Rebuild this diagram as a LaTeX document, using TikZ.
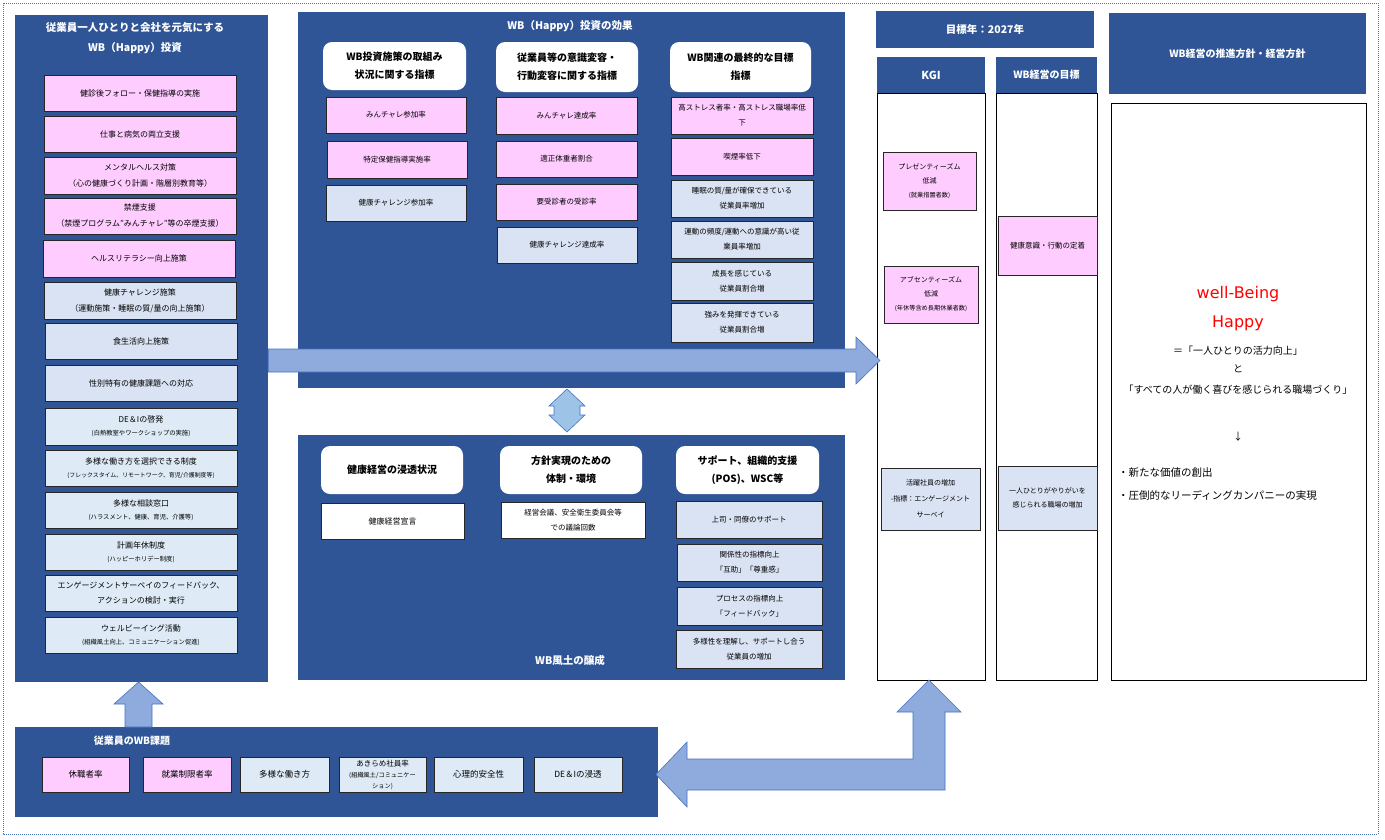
\documentclass[tikz,border=0pt]{standalone}
\usepackage{fontspec}
\setmainfont{Noto Sans CJK JP}
\newfontfamily\dvfont{DejaVu Sans}
\definecolor{pblue}{HTML}{2F5597}
\definecolor{pinkc}{HTML}{FFCCFF}
\definecolor{lbluec}{HTML}{DAE3F3}
\definecolor{lbluec2}{HTML}{DEEBF7}
\definecolor{arrc}{HTML}{8FAADC}
\definecolor{arrd}{HTML}{4472C4}
\definecolor{darrc}{HTML}{9DC3E6}
\newcommand\mybox[7]{\node[#6, minimum width={#4-#2}, minimum height={#5-#3}] (#1) at ({(#2+#4)/2},{(#3+#5)/2}) {#7};}
\newcommand\smtxt[1]{{\fontsize{6.3}{10}\selectfont #1}}
\newcommand\ssmtxt[1]{{\fontsize{6.2}{9}\selectfont #1}}
\tikzset{
 panel/.style={fill=pblue, draw=none, inner sep=0pt},
 pk/.style={fill=pinkc, draw=black!85, line width=0.9pt, inner sep=0pt, align=center, font=\fontsize{8}{16}\selectfont},
 lb/.style={pk, fill=lbluec},
 lbb/.style={pk, fill=lbluec2},
 wbx/.style={pk, fill=white},
 tight/.style={font=\fontsize{8}{13}\selectfont},
 mid/.style={font=\fontsize{7.5}{15}\selectfont},
 kg/.style={font=\fontsize{7}{14}\selectfont},
 hdr/.style={fill=white, draw=none, rounded corners=9pt, inner sep=0pt, align=center, font=\bfseries\fontsize{10}{18}\selectfont},
 ttl/.style={text=white, font=\bfseries\fontsize{10.5}{20}\selectfont, align=center, inner sep=0pt},
 bighead/.style={fill=pblue, draw=none, inner sep=0pt, text=white, align=center, font=\bfseries\fontsize{10.5}{14}\selectfont},
 colbox/.style={fill=white, draw=black, line width=0.8pt, inner sep=0pt},
 arr/.style={fill=arrc, draw=arrd, line width=0.6pt, line join=miter},
 darr/.style={fill=darrc, draw=arrd, line width=0.6pt},
 rtxt/.style={inner sep=0pt, font=\fontsize{10}{12}\selectfont},
}
\begin{document}
\begin{tikzpicture}[x=1pt, y=-1pt]
\useasboundingbox (0,0) rectangle (1385,839);
\fill[white] (0,0) rectangle (1385,839);
\draw[arrd, line width=1pt, dash pattern=on 1pt off 1pt] (3,3) rectangle (1378,834);

% ---------------- left panel ----------------
\mybox{lp}{15}{15}{268}{682}{panel}{}
\node[ttl] (lpt) at (135,38) {従業員一人ひとりと会社を元気にする\\WB（Happy）投資};
\mybox{l1}{44}{75}{236}{111}{pk}{健診後フォロー・保健指導の実施}
\mybox{l2}{44}{116}{236}{152}{pk}{仕事と病気の両立支援}
\mybox{l3}{44}{157}{236}{194}{pk}{メンタルヘルス対策\\（心の健康づくり計画・階層別教育等）}
\mybox{l4}{44}{198}{236}{234}{pk}{禁煙支援\\（禁煙プログラム"みんチャレ"等の卒煙支援）}
\mybox{l5}{43}{240}{235}{277}{pk}{ヘルスリテラシー向上施策}
\mybox{l6}{44}{282}{236}{319}{lb}{健康チャレンジ施策\\（運動施策・睡眠の質/量の向上施策）}
\mybox{l7}{45}{323}{237}{359}{lb}{食生活向上施策}
\mybox{l8}{45}{365}{237}{401}{lb}{性別特有の健康課題への対応}
\mybox{l9}{45}{408}{237}{445}{lbb,tight}{DE＆Iの啓発\\\smtxt{(白熱教室やワークショップの実施)}}
\mybox{l10}{45}{450}{237}{486}{lbb,tight}{多様な働き方を選択できる制度\\{\fontsize{5.9}{10}\selectfont (フレックスタイム、リモートワーク、育児/介護制度等)}}
\mybox{l11}{45}{492}{237}{528}{lbb,tight}{多様な相談窓口\\\smtxt{(ハラスメント、健康、育児、介護等)}}
\mybox{l12}{45}{534}{237}{570}{lbb,tight}{計画年休制度\\\smtxt{(ハッピーホリデー制度)}}
\mybox{l13}{45}{575}{237}{611}{lbb,font=\fontsize{8}{15}\selectfont}{エンゲージメントサーベイのフィードバック、\\アクションの検討・実行}
\mybox{l14}{45}{617}{237}{653}{lbb,tight}{ウェルビーイング活動\\\smtxt{(組織風土向上、コミュニケーション促進)}}

% ---------------- middle top panel ----------------
\mybox{mtp}{298}{12}{845}{388}{panel}{}
\node[ttl] (mtpt) at (570,26) {WB（Happy）投資の効果};
\mybox{h1}{323}{42}{466}{90}{hdr}{WB投資施策の取組み\\状況に関する指標}
\mybox{h2}{496}{42}{638}{92}{hdr}{従業員等の意識変容・\\行動変容に関する指標}
\mybox{h3}{670}{42}{811}{92}{hdr}{WB関連の最終的な目標\\指標}
\mybox{a1}{326}{97}{466}{133}{pk,mid}{みんチャレ参加率}
\mybox{a2}{327}{141}{467}{178}{pk,mid}{特定保健指導実施率}
\mybox{a3}{326}{185}{466}{221}{lb,mid}{健康チャレンジ参加率}
\mybox{b1}{496}{97}{637}{134}{pk,mid}{みんチャレ達成率}
\mybox{b2}{496}{141}{637}{177}{pk,mid}{適正体重者割合}
\mybox{b3}{496}{184}{637}{220}{pk,mid}{要受診者の受診率}
\mybox{b4}{497}{227}{637}{263}{lb,mid}{健康チャレンジ達成率}
\mybox{c1}{671}{97}{813}{134}{pk,mid}{高ストレス者率・高ストレス職場率低\\下}
\mybox{c2}{671}{138}{813}{175}{pk,mid}{喫煙率低下}
\mybox{c3}{671}{180}{813}{217}{lb,mid}{睡眠の質/量が確保できている\\従業員率増加}
\mybox{c4}{671}{221}{813}{258}{lb,mid}{運動の頻度/運動への意識が高い従\\業員率増加}
\mybox{c5}{671}{262}{813}{300}{lb,mid}{成長を感じている\\従業員割合増}
\mybox{c6}{671}{303}{813}{342}{lb,mid}{強みを発揮できている\\従業員割合増}

% ---------------- middle bottom panel ----------------
\mybox{mbp}{298}{435}{845}{680}{panel}{}
\node[ttl] (mbpt) at (570,660) {WB風土の醸成};
\mybox{g1}{321}{446}{463}{494}{hdr}{健康経営の浸透状況}
\mybox{g2}{500}{446}{642}{494}{hdr}{方針実現のための\\体制・環境}
\mybox{g3}{676}{446}{819}{494}{hdr}{サポート、組織的支援\\(POS)、WSC等}
\mybox{d1}{321}{503}{464}{539}{wbx}{健康経営宣言}
\mybox{e1}{501}{502}{645}{538}{wbx,mid}{経営会議、安全衛生委員会等\\での議論回数}
\mybox{f1}{676}{501}{822}{538}{lb,mid}{上司・同僚のサポート}
\mybox{f2}{677}{544}{822}{581}{lb,mid}{関係性の指標向上\\「互助」「尊重感」}
\mybox{f3}{677}{587}{822}{625}{lb,mid}{プロセスの指標向上\\「フィードバック」}
\mybox{f4}{676}{630}{822}{668}{lb,mid}{多様性を理解し、サポートし合う\\従業員の増加}

% ---------------- right columns ----------------
\mybox{goal}{876}{11}{1094}{48}{bighead}{目標年：2027年}
\mybox{kgic}{877}{93}{985}{680}{colbox}{}
\mybox{kgih}{877}{57}{985}{93}{bighead,font=\bfseries\fontsize{11}{14}\selectfont}{KGI}
\mybox{wbc}{996}{93}{1097}{680}{colbox}{}
\mybox{wbh}{996}{57}{1097}{93}{bighead,font=\bfseries\fontsize{10}{14}\selectfont}{WB経営の目標}
\mybox{k1}{883}{152}{976}{210}{pk,kg}{プレゼンティーズム\\低減\\\ssmtxt{(就業措置者数)}}
\mybox{k2}{884}{266}{978}{323}{pk,kg}{アブセンティーズム\\低減\\\ssmtxt{(年休等含め長期休業者数)}}
\mybox{k3}{881}{468}{980}{530}{lb,font=\fontsize{7}{16}\selectfont}{活躍社員の増加\\-指標：エンゲージメント\\サーベイ}
\mybox{w1}{998}{216}{1097}{275}{pk,font=\fontsize{7.5}{14}\selectfont}{健康意識・行動の定着}
\mybox{w2}{998}{466}{1097}{530}{lb,kg}{一人ひとりがやりがいを\\感じられる職場の増加}

\mybox{rh}{1109}{13}{1366}{94}{bighead,font=\bfseries\fontsize{10}{14}\selectfont}{WB経営の推進方針・経営方針}
\mybox{rbox}{1111}{103}{1366}{680}{colbox}{}
\node[inner sep=0pt, text=red, font=\dvfont\fontsize{16}{18}\selectfont] (wb) at (1238,294) {well-Being};
\node[inner sep=0pt, text=red, font=\dvfont\fontsize{16}{18}\selectfont] (hp) at (1238,323) {Happy};
\node[rtxt] (r1) at (1238,351) {＝「一人ひとりの活力向上」};
\node[rtxt] (r2) at (1238,369) {と};
\node[rtxt] (r3) at (1238,390) {「すべての人が働く喜びを感じられる職場づくり」};
\node[rtxt] (r4) at (1238,437) {↓};
\node[rtxt, anchor=west, font=\fontsize{10.5}{12}\selectfont] (r5) at (1118,473) {・新たな価値の創出};
\node[rtxt, anchor=west, font=\fontsize{10.5}{12}\selectfont] (r6) at (1118,495) {・圧倒的なリーディングカンパニーの実現};

% ---------------- bottom panel ----------------
\mybox{bp}{15}{727}{658}{817}{panel}{}
\node[ttl, font=\bfseries\fontsize{10}{12}\selectfont] (bpt) at (132,741) {従業員のWB課題};
\mybox{q1}{42}{757}{129}{792}{pk,font=\fontsize{8.5}{12}\selectfont}{休職者率}
\mybox{q2}{143}{757}{231}{792}{pk,font=\fontsize{8.5}{12}\selectfont}{就業制限者率}
\mybox{q3}{240}{757}{329}{792}{lbb,font=\fontsize{8.5}{12}\selectfont}{多様な働き方}
\mybox{q4}{339}{757}{426}{792}{lbb,font=\fontsize{7.5}{11}\selectfont}{あきらめ社員率\\\ssmtxt{(組織風土/コミュニケー}\\\ssmtxt{ション)}}
\mybox{q5}{434}{757}{523}{792}{lbb,font=\fontsize{8.5}{12}\selectfont}{心理的安全性}
\mybox{q6}{534}{757}{622}{792}{lbb,font=\fontsize{8.5}{12}\selectfont}{DE＆Iの浸透}

% ---------------- arrows ----------------
\draw[arr] (lp.east |- 0,349) -- (856,349) -- (856,337) -- (880,360.5) -- (856,384) -- (856,372) -- (lp.east |- 0,372) -- cycle;
\draw[darr] (567,389) -- (585,406) -- (580,406) -- (580,415) -- (585,415) -- (567,432) -- (549,415) -- (554,415) -- (554,406) -- (549,406) -- cycle;
\draw[arr] (125,727) -- (125,704) -- (114,704) -- (138.5,682) -- (163,704) -- (152,704) -- (152,727) -- cycle;
\draw[arr] (656,774.5) -- (687,742) -- (687,759) -- (913,759) -- (913,712) -- (897,712) -- (929,680) -- (961,712) -- (945,712) -- (945,790) -- (687,790) -- (687,807) -- cycle;
\end{tikzpicture}
\end{document}
